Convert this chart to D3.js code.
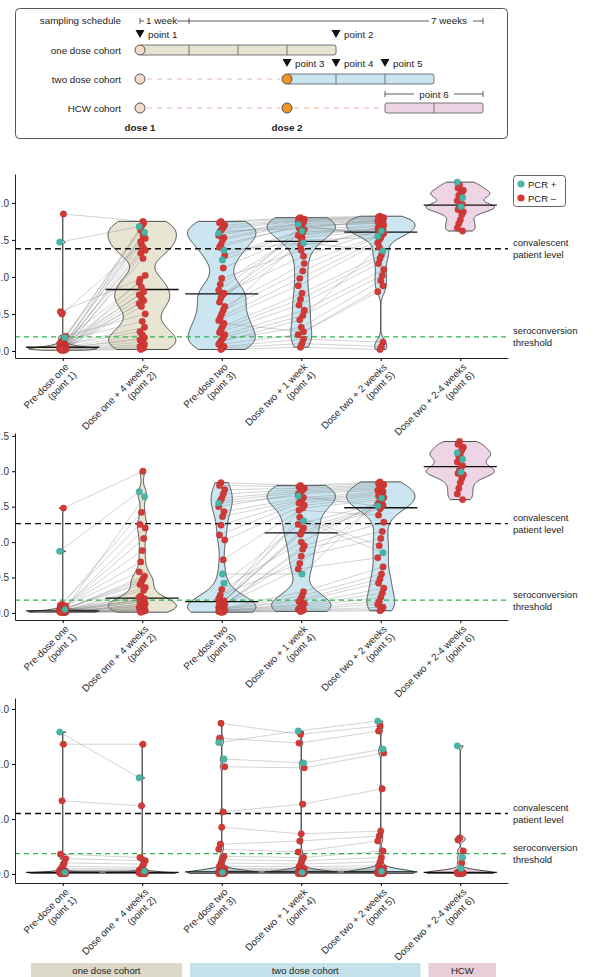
<!DOCTYPE html>
<html><head><meta charset="utf-8">
<script src="https://cdn.jsdelivr.net/npm/d3@7"></script>
<style>
body{margin:0;background:#fff;}
svg{display:block;font-family:"Liberation Sans",Arial,Helvetica,sans-serif;}
</style>
</head><body>
<svg id="chart" width="593" height="977"></svg>
<script>
// ---------------- data ----------------
const categories = ["p1","p2","p3","p4","p5","p6"];
const categoryLabels = [
  ["Pre-dose one","(point 1)"],
  ["Dose one + 4 weeks","(point 2)"],
  ["Pre-dose two","(point 3)"],
  ["Dose two + 1 week","(point 4)"],
  ["Dose two + 2 weeks","(point 5)"],
  ["Dose two + 2-4 weeks","(point 6)"]
];
const cohortNames = ["one dose cohort","two dose cohort","HCW"];
const categoryCohort = [0,0,1,1,1,2];
const pcrPositiveOneDose = [0,1];
const pcrPositiveTwoDose = [0,1,2];
const pcrPositiveHCW = [0,1,2];

// panel A
const aPoint1 = [1.47,0.18,1.85,0.50,0.53,0.20,0.16,0.14,0.12,0.10,0.09,0.08,0.07,0.07,0.06,0.06,0.05,0.05,0.05,0.04,0.04,0.04,0.04,0.03,0.03,0.03,0.03,0.03,0.02,0.02,0.02,0.02,0.02,0.01,0.01,0.01];
const aPoint2 = [1.68,1.60,1.75,1.44,0.97,0.50,1.73,0.40,1.63,0.92,0.32,1.56,0.86,0.26,1.52,0.80,0.22,1.48,0.76,0.18,1.40,0.72,0.15,1.36,0.68,0.12,1.32,0.64,0.09,1.25,0.60,0.06,1.02,0.04,1.70,0.02];
const aPoint3 = [1.59,1.36,1.23,1.75,1.73,1.70,1.67,1.64,1.62,1.56,1.53,1.50,1.44,1.40,1.29,1.12,0.98,0.90,0.82,0.78,0.76,0.72,0.66,0.60,0.55,0.50,0.45,0.41,0.37,0.33,0.29,0.25,0.22,0.18,0.15,0.12,0.09,0.06,0.04,0.02];
const aPoint4 = [1.71,1.46,1.62,1.80,1.79,1.78,1.77,1.76,1.65,1.75,1.74,1.72,1.68,1.70,1.64,1.60,1.36,1.58,1.56,1.28,1.53,1.42,1.67,1.18,1.08,1.50,0.98,0.88,0.26,0.78,0.70,0.62,0.55,0.48,0.32,0.42,0.22,0.16,0.10,0.05];
const aPoint5 = [1.55,1.35,1.62,1.82,1.81,1.80,1.79,1.78,1.77,1.76,1.75,1.74,1.73,1.72,1.70,1.69,1.68,1.66,1.65,1.64,1.63,1.61,1.60,1.59,1.57,1.53,1.50,1.46,0.88,1.30,1.25,1.18,1.10,1.02,0.95,1.40,0.80,0.12,0.06,0.02];
const aPoint6 = [2.28,2.07,1.95,2.24,2.20,2.17,2.14,2.12,2.10,2.03,1.98,1.96,1.93,1.91,1.88,1.84,1.77,1.72,1.66,1.62];

// panel B
const bPoint1 = [0.87,0.05,1.48,0.12,0.11,0.10,0.09,0.08,0.07,0.06,0.05,0.05,0.04,0.04,0.04,0.03,0.03,0.03,0.03,0.03,0.03,0.02,0.02,0.02,0.02,0.02,0.02,0.02,0.01,0.01,0.01,0.01,0.01,0.01,0.01,0.01];
const bPoint2 = [1.71,1.64,2.00,1.42,1.25,1.20,1.05,0.88,0.72,0.58,0.52,0.48,0.44,0.40,0.36,0.32,0.19,0.24,0.22,0.20,0.18,0.16,0.15,0.13,0.12,0.10,0.09,0.08,0.07,0.06,0.05,0.04,0.03,0.03,0.02,0.01];
const bPoint3 = [1.55,0.42,0.55,1.84,1.80,1.74,1.68,1.62,1.58,1.50,1.43,1.36,1.24,1.10,1.03,0.75,0.33,0.25,0.20,0.17,0.15,0.14,0.13,0.12,0.11,0.10,0.09,0.08,0.07,0.06,0.05,0.05,0.04,0.04,0.03,0.03,0.02,0.02,0.01,0.01];
const bPoint4 = [1.65,1.30,0.55,1.80,1.78,1.76,1.74,1.72,1.70,1.68,1.63,1.60,1.58,1.55,1.52,1.48,1.00,0.70,1.25,1.20,1.15,1.11,1.45,0.95,0.90,0.80,1.35,0.62,0.30,0.24,0.19,0.16,0.13,0.11,0.09,0.07,0.05,0.04,0.03,0.02];
const bPoint5 = [1.51,0.85,1.62,1.85,1.83,1.81,1.79,1.77,1.75,1.73,1.71,1.69,1.67,1.65,1.63,1.60,1.58,1.56,1.54,1.52,1.50,1.47,1.38,1.28,1.15,1.05,0.95,0.78,0.65,0.55,0.48,0.42,0.35,0.28,0.22,0.16,0.12,0.08,0.05,0.03];
const bPoint6 = [2.26,2.17,1.99,2.42,2.38,2.34,2.30,2.24,2.21,2.13,2.08,2.05,2.02,1.97,1.95,1.90,1.84,1.76,1.68,1.60];

// panel C
const cPoint1 = [2.58,0.03,2.36,1.33,0.36,0.28,0.20,0.14,0.10,0.07,0.06,0.05,0.05,0.04,0.04,0.04,0.03,0.03,0.03,0.03,0.03,0.02,0.02,0.02,0.02,0.02,0.02,0.02,0.01,0.01,0.01,0.01,0.01,0.01,0.01,0.01];
const cPoint2 = [1.75,0.05,2.36,1.24,0.30,0.24,0.18,0.12,0.09,0.07,0.06,0.05,0.05,0.04,0.04,0.04,0.03,0.03,0.03,0.03,0.03,0.02,0.02,0.02,0.02,0.02,0.02,0.02,0.01,0.01,0.01,0.01,0.01,0.01,0.01,0.01];
const cPoint3 = [2.39,2.09,0.03,2.74,2.47,1.95,1.13,0.85,0.54,0.45,0.32,0.26,0.20,0.14,0.10,0.08,0.06,0.05,0.05,0.04,0.04,0.04,0.03,0.03,0.03,0.03,0.03,0.02,0.02,0.02,0.02,0.02,0.02,0.01,0.01,0.01,0.01,0.01,0.01,0.01];
const cPoint4 = [2.60,2.02,0.03,2.54,2.38,1.93,1.27,0.73,0.60,0.40,0.30,0.24,0.18,0.13,0.10,0.08,0.06,0.05,0.05,0.04,0.04,0.04,0.03,0.03,0.03,0.03,0.03,0.02,0.02,0.02,0.02,0.02,0.02,0.01,0.01,0.01,0.01,0.01,0.01,0.01];
const cPoint5 = [2.78,2.27,0.05,2.69,2.60,2.20,1.55,0.78,0.69,0.60,0.42,0.30,0.22,0.15,0.11,0.08,0.06,0.05,0.05,0.04,0.04,0.04,0.03,0.03,0.03,0.03,0.03,0.02,0.02,0.02,0.02,0.02,0.02,0.01,0.01,0.01,0.01,0.01,0.01,0.01];
const cPoint6 = [2.33,0.30,0.10,0.65,0.62,0.42,0.20,0.06,0.04,0.03,0.03,0.02,0.02,0.02,0.02,0.01,0.01,0.01,0.01,0.01];

const yTicksA = [0,0.5,1,1.5,2];
const yTicksB = [0,0.5,1,1.5,2,2.5];
const yTicksC = [0,1,2,3];
const convalescentLevels = [1.38,1.26,1.10];
const seroconversionLevels = [0.19,0.18,0.37];

// schedule
const scheduleRows = ["one dose cohort","two dose cohort","HCW cohort"];
const scheduleBarStart = [0,3,5];
const scheduleBarEnd = [4,6,7];
const scheduleSecondDose = [false,true,true];
const scheduleMarkers = [
  {label:"point 1", week:0, row:0},
  {label:"point 2", week:4, row:0},
  {label:"point 3", week:3, row:1},
  {label:"point 4", week:4, row:1},
  {label:"point 5", week:5, row:1}
];

// ---------------- drawing ----------------
const svg = d3.select("#chart");
const red = "#d23a37", teal = "#47b6a6";
const violinFill = ["#e5e2cd","#c5e3ee","#ecd0e3"];
const scheduleFill = ["#e6e4d1","#c9e5ef","#edd4e5"];
const legendFill = ["#ddd9c9","#c5e2ec","#e8ced9"];

(function drawSchedule(){
  const g = svg.append("g");
  g.append("rect").attr("x",15.5).attr("y",8.5).attr("width",492).attr("height",130)
    .attr("rx",4).attr("fill","#fff").attr("stroke","#555").attr("stroke-width",1);
  const wx = d3.scaleLinear().domain([0,7]).range([140,483]);
  const ry = d3.scaleLinear().domain([0,2]).range([50,108]);
  const fs = 9.8;
  g.append("text").attr("x",121).attr("y",24).attr("text-anchor","end")
    .attr("font-size",fs).attr("fill","#222").text("sampling schedule");
  const tl = g.append("g").attr("stroke","#333").attr("stroke-width",0.8);
  const ty = 21;
  [[wx(0),wx(0)+4],[wx(0)+37,wx(7)-54],[wx(7)-10,wx(7)]].forEach(s=>
    tl.append("line").attr("x1",s[0]).attr("x2",s[1]).attr("y1",ty).attr("y2",ty));
  [wx(0),wx(1),wx(7)].forEach(v=>tl.append("line").attr("x1",v).attr("x2",v).attr("y1",ty-3).attr("y2",ty+3));
  g.append("text").attr("x",wx(0)+6).attr("y",24).attr("font-size",fs).attr("fill","#222").text("1 week");
  g.append("text").attr("x",wx(7)-52).attr("y",24).attr("font-size",fs).attr("fill","#222").text("7 weeks");

  scheduleRows.forEach((r,i)=>{
    const y = ry(i);
    g.append("text").attr("x",121).attr("y",y+3.5).attr("text-anchor","end")
      .attr("font-size",fs).attr("fill","#222").text(r);
    if(i>0){
      g.append("line").attr("x1",wx(0)+7).attr("x2",wx(3)-7).attr("y1",y).attr("y2",y)
        .attr("stroke","#e3b9a8").attr("stroke-width",1.2).attr("stroke-dasharray","5,5");
    }
    if(i===2){
      g.append("line").attr("x1",wx(3)+7).attr("x2",wx(5)-3).attr("y1",y).attr("y2",y)
        .attr("stroke","#e3b9a8").attr("stroke-width",1.2).attr("stroke-dasharray","5,5");
    }
    const b0 = wx(scheduleBarStart[i]), b1 = wx(scheduleBarEnd[i]);
    g.append("rect").attr("x",b0).attr("y",y-5).attr("width",b1-b0).attr("height",10)
      .attr("rx",2).attr("fill",scheduleFill[i]).attr("stroke","#555").attr("stroke-width",0.8);
    d3.range(scheduleBarStart[i]+1, scheduleBarEnd[i]).forEach(w=>
      g.append("line").attr("x1",wx(w)).attr("x2",wx(w)).attr("y1",y-5).attr("y2",y+5)
        .attr("stroke","#555").attr("stroke-width",0.8));
    g.append("circle").attr("cx",wx(0)).attr("cy",y).attr("r",5)
      .attr("fill","#f3dccb").attr("stroke","#444").attr("stroke-width",0.9);
    if(scheduleSecondDose[i]){
      g.append("circle").attr("cx",wx(3)).attr("cy",y).attr("r",5)
        .attr("fill","#f0952c").attr("stroke","#444").attr("stroke-width",0.9);
    }
  });
  scheduleMarkers.forEach(m=>{
    const x = wx(m.week), y = ry(m.row)-16;
    g.append("path").attr("d",`M${x-4.5},${y-4}L${x+4.5},${y-4}L${x},${y+4}Z`).attr("fill","#111");
    g.append("text").attr("x",x+8).attr("y",y+3.5).attr("font-size",fs).attr("fill","#222").text(m.label);
  });
  const by = ry(2)-14, bx0 = wx(5), bx1 = wx(7), bm=(bx0+bx1)/2;
  const br = g.append("g").attr("stroke","#333").attr("stroke-width",0.8);
  [[bx0,bm-20],[bm+20,bx1]].forEach(s=>br.append("line").attr("x1",s[0]).attr("x2",s[1]).attr("y1",by).attr("y2",by));
  [bx0,bx1].forEach(v=>br.append("line").attr("x1",v).attr("x2",v).attr("y1",by-3).attr("y2",by+3));
  g.append("text").attr("x",bm).attr("y",by+3.5).attr("text-anchor","middle").attr("font-size",fs).attr("fill","#222").text("point 6");
  g.append("text").attr("x",wx(0)).attr("y",131).attr("text-anchor","middle").attr("font-size",fs)
    .attr("font-weight","bold").attr("fill","#222").text("dose 1");
  g.append("text").attr("x",wx(3)).attr("y",131).attr("text-anchor","middle").attr("font-size",fs)
    .attr("font-weight","bold").attr("fill","#222").text("dose 2");
})();

const x = d3.scalePoint().domain(categories).range([15,508]).padding(0.6);
const step = x.step();
const violinHalf = step*0.43, medianHalf = step*0.46;
const bwAdjust = 0.5;

function nrd0(v){
  const s = d3.deviation(v);
  const sorted = v.slice().sort(d3.ascending);
  const iqr = d3.quantileSorted(sorted,0.75)-d3.quantileSorted(sorted,0.25);
  let lo = Math.min(s, iqr/1.34);
  if(!(lo>0)) lo = s || Math.abs(sorted[0]) || 1;
  return 0.9*lo*Math.pow(v.length,-0.2);
}
function kde(v){
  const bw = nrd0(v)*bwAdjust;
  const [mn,mx] = d3.extent(v);
  const n = 200;
  return d3.range(n).map(i=>{
    const t = mn+(mx-mn)*i/(n-1);
    return [t, d3.mean(v, u=>Math.exp(-0.5*((t-u)/bw)**2))];
  });
}
function jitter(i){ return (((i*7)%9)-4)*0.75; }

const panels = [
  {vals:[aPoint1,aPoint2,aPoint3,aPoint4,aPoint5,aPoint6], top:174, bottom:358, domain:[-0.095,2.39], ticks:yTicksA, legend:true},
  {vals:[bPoint1,bPoint2,bPoint3,bPoint4,bPoint5,bPoint6], top:433, bottom:620, domain:[-0.1,2.54], ticks:yTicksB, legend:false},
  {vals:[cPoint1,cPoint2,cPoint3,cPoint4,cPoint5,cPoint6], top:698, bottom:883, domain:[-0.164,3.2], ticks:yTicksC, legend:false}
];
const pcrSets = [new Set(pcrPositiveOneDose), new Set(pcrPositiveTwoDose), new Set(pcrPositiveHCW)];

panels.forEach((p,pi)=>{
  const g = svg.append("g");
  const y = d3.scaleLinear().domain(p.domain).range([p.bottom,p.top]);

  p.vals.forEach((v,ci)=>{
    const cx = x(categories[ci]);
    const dens = kde(v);
    const dmax = d3.max(dens,d=>d[1]);
    const w = d3.scaleLinear().domain([0,dmax]).range([0,violinHalf]);
    const area = d3.area().y(d=>y(d[0])).x0(d=>cx-w(d[1])).x1(d=>cx+w(d[1]));
    g.append("path").attr("d",area(dens)).attr("fill",violinFill[categoryCohort[ci]])
      .attr("fill-opacity",0.9).attr("stroke","#3a3a3a").attr("stroke-width",0.9);
  });

  const lg = g.append("g").attr("stroke","#777").attr("stroke-width",0.6).attr("stroke-opacity",0.55).attr("fill","none");
  [[0,1],[2,3],[3,4]].forEach(([a,b])=>{
    p.vals[a].forEach((va,i)=>{
      lg.append("line").attr("x1",x(categories[a])+jitter(i)).attr("y1",y(va))
        .attr("x2",x(categories[b])+jitter(i)).attr("y2",y(p.vals[b][i]));
    });
  });

  g.append("line").attr("x1",15).attr("x2",508).attr("y1",y(seroconversionLevels[pi])).attr("y2",y(seroconversionLevels[pi]))
    .attr("stroke","#2eb34a").attr("stroke-width",1.1).attr("stroke-dasharray","5,4");
  g.append("line").attr("x1",15).attr("x2",508).attr("y1",y(convalescentLevels[pi])).attr("y2",y(convalescentLevels[pi]))
    .attr("stroke","#111").attr("stroke-width",1.4).attr("stroke-dasharray","6,4");

  p.vals.forEach((v,ci)=>{
    const cx = x(categories[ci]), m = d3.median(v);
    g.append("line").attr("x1",cx-medianHalf).attr("x2",cx+medianHalf).attr("y1",y(m)).attr("y2",y(m))
      .attr("stroke","#111").attr("stroke-width",1.3);
  });

  [false,true].forEach(pos=>{
    p.vals.forEach((v,ci)=>{
      const set = pcrSets[categoryCohort[ci]];
      v.forEach((val,i)=>{
        if(set.has(i)!==pos) return;
        g.append("circle").attr("cx",x(categories[ci])+jitter(i)).attr("cy",y(val)).attr("r",3.2)
          .attr("fill",pos?teal:red).attr("stroke",pos?"#2f9587":"#b22a28").attr("stroke-width",0.4);
      });
    });
  });

  const ya = d3.axisLeft(y).tickValues(p.ticks).tickFormat(d3.format(".1f")).tickSize(3).tickSizeOuter(0);
  const yg = g.append("g").attr("transform","translate(15,0)").call(ya);
  yg.selectAll("text").attr("font-size",10).attr("fill","#333").attr("font-family","Liberation Sans, Arial, sans-serif");
  yg.select(".domain").attr("stroke","#222");
  const xa = d3.axisBottom(x).tickSize(3).tickSizeOuter(0).tickFormat("");
  const xg = g.append("g").attr("transform",`translate(0,${p.bottom})`).call(xa);
  xg.select(".domain").attr("stroke","#222");
  categories.forEach((c,ci)=>{
    const t = g.append("text").attr("transform",`translate(${x(c)+1},${p.bottom+4}) rotate(-45)`)
      .attr("text-anchor","end").attr("font-size",9.8).attr("fill","#2a2a2a");
    t.append("tspan").attr("x",0).attr("y",8).text(categoryLabels[ci][0]);
    t.append("tspan").attr("x",0).attr("y",19).text(categoryLabels[ci][1]);
  });

  const lab = (txt, v)=>{
    const t = g.append("text").attr("x",513).attr("font-size",9.5).attr("fill","#222");
    t.append("tspan").attr("x",513).attr("y",y(v)-2.5).text(txt[0]);
    t.append("tspan").attr("x",513).attr("y",y(v)+9.5).text(txt[1]);
  };
  lab(["convalescent","patient level"], convalescentLevels[pi]);
  lab(["seroconversion","threshold"], seroconversionLevels[pi]);

  if(p.legend){
    const lgd = g.append("g");
    lgd.append("rect").attr("x",513.5).attr("y",175.5).attr("width",52).attr("height",31).attr("rx",3)
      .attr("fill","#fff").attr("stroke","#555").attr("stroke-width",0.9);
    [["PCR +",teal],["PCR \u2013",red]].forEach((d,i)=>{
      lgd.append("circle").attr("cx",521).attr("cy",184+i*14).attr("r",3.6).attr("fill",d[1]);
      lgd.append("text").attr("x",528).attr("y",187.5+i*14).attr("font-size",9.5).attr("fill","#222").text(d[0]);
    });
  }
});

const cohortSpan = [[0,1],[2,4],[5,5]];
cohortNames.forEach((name,i)=>{
  const x0 = x(categories[cohortSpan[i][0]]) - step*0.4;
  const x1 = x(categories[cohortSpan[i][1]]) + (i===2?step*0.45:step*0.5);
  svg.append("rect").attr("x",x0).attr("y",963).attr("width",x1-x0).attr("height",14).attr("fill",legendFill[i]);
  svg.append("text").attr("x",(x0+x1)/2).attr("y",974).attr("text-anchor","middle")
    .attr("font-size",9.5).attr("fill","#222").text(name);
});
</script>
</body></html>
